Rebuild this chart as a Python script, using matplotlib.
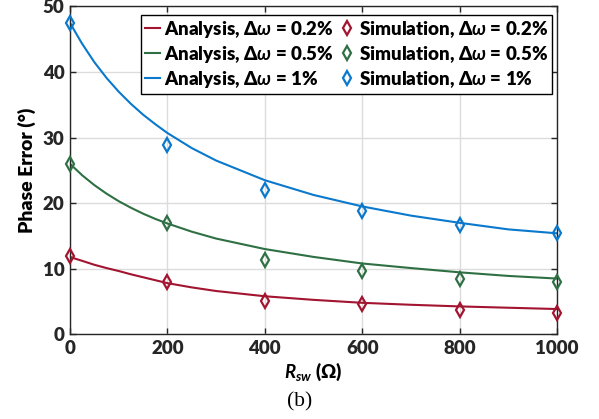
import numpy as np
import matplotlib
matplotlib.use('Agg')
import matplotlib.pyplot as plt

plt.rcParams['font.family'] = ['Lato', 'Open Sans', 'DejaVu Sans']
plt.rcParams['font.weight'] = 'bold'
plt.rcParams['mathtext.fontset'] = 'custom'
plt.rcParams['mathtext.rm'] = 'Lato:bold'
plt.rcParams['mathtext.it'] = 'Lato:bold:italic'
plt.rcParams['mathtext.bf'] = 'Lato:bold'

# analysis curves
r_ana = [0, 10, 25, 50, 75, 100, 125, 150, 175, 200, 250, 300, 400, 500, 600, 700, 800, 900, 1000]
ana_02 = [11.8, 11.55, 11.2, 10.6, 10.1, 9.65, 9.15, 8.7, 8.25, 7.8, 7.15, 6.6, 5.8, 5.25, 4.8, 4.5, 4.25, 4.05, 3.85]
ana_05 = [26.0, 25.3, 24.25, 22.75, 21.45, 20.3, 19.3, 18.4, 17.6, 16.9, 15.65, 14.6, 13.0, 11.8, 10.8, 10.1, 9.45, 8.9, 8.5]
ana_1 = [47.5, 46.2, 44.3, 41.5, 39.1, 37.0, 35.15, 33.5, 32.05, 30.7, 28.4, 26.5, 23.5, 21.25, 19.5, 18.1, 17.0, 16.0, 15.4]

# simulation points
r_sim = [0, 200, 400, 600, 800, 1000]
sim_02 = [12.0, 7.9, 5.1, 4.6, 3.7, 3.2]
sim_05 = [26.0, 16.9, 11.3, 9.6, 8.4, 7.9]
sim_1 = [47.5, 28.8, 22.0, 18.8, 16.6, 15.5]

labels = ['0.2%', '0.5%', '1%']
colors = ['#A2142F', '#2E7043', '#0A78CC']

fig = plt.figure(figsize=(5.99, 4.19), dpi=100)
ax = fig.add_axes([0.1169, 0.2022, 0.8131, 0.7823])

for y, lab, c in zip([ana_02, ana_05, ana_1], labels, colors):
    ax.plot(r_ana, y, color=c, lw=1.5, label='Analysis, Δ$\\omega$ = ' + lab)
for y, lab, c in zip([sim_02, sim_05, sim_1], labels, colors):
    ax.plot(r_sim, y, ls='none', marker='d', ms=7.5, mfc='none', mec=c, mew=1.6,
            label='Simulation, Δ$\\omega$ = ' + lab, clip_on=False, zorder=5)

ax.set_xlim(0, 1000)
ax.set_ylim(0, 50)
ax.set_xticks([0, 200, 400, 600, 800, 1000])
ax.set_yticks([0, 10, 20, 30, 40, 50])
ax.grid(True, color='#dcdcdc', lw=1)
ax.set_axisbelow(True)
ax.tick_params(direction='in', top=True, right=True, length=4, width=1,
               colors='#262626', labelsize=13.5, pad=4)
for lbl in ax.get_xticklabels() + ax.get_yticklabels():
    lbl.set_fontweight('heavy')
for s in ax.spines.values():
    s.set_color('#262626')
    s.set_linewidth(1)

ax.set_ylabel('Phase Error (°)', fontsize=14, fontweight='heavy', labelpad=5)
ax.set_xlabel('$R_{sw}$ (Ω)', fontsize=13.5, fontweight='heavy', labelpad=3)
fig.text(0.5, 0.042, '(b)', ha='center', va='center', fontsize=15.5,
         family='Liberation Serif', fontweight='normal')

leg = ax.legend(ncol=2, loc='upper right', bbox_to_anchor=(0.99, 0.974),
                borderaxespad=0, fancybox=False, edgecolor='black', framealpha=1,
                prop={'size': 13.5, 'weight': 'heavy'}, handlelength=0.8,
                handletextpad=0.25, columnspacing=0.3,
                labelspacing=0.22, borderpad=0.2)
leg.get_frame().set_linewidth(1)

fig.savefig('out.png', dpi=100)
